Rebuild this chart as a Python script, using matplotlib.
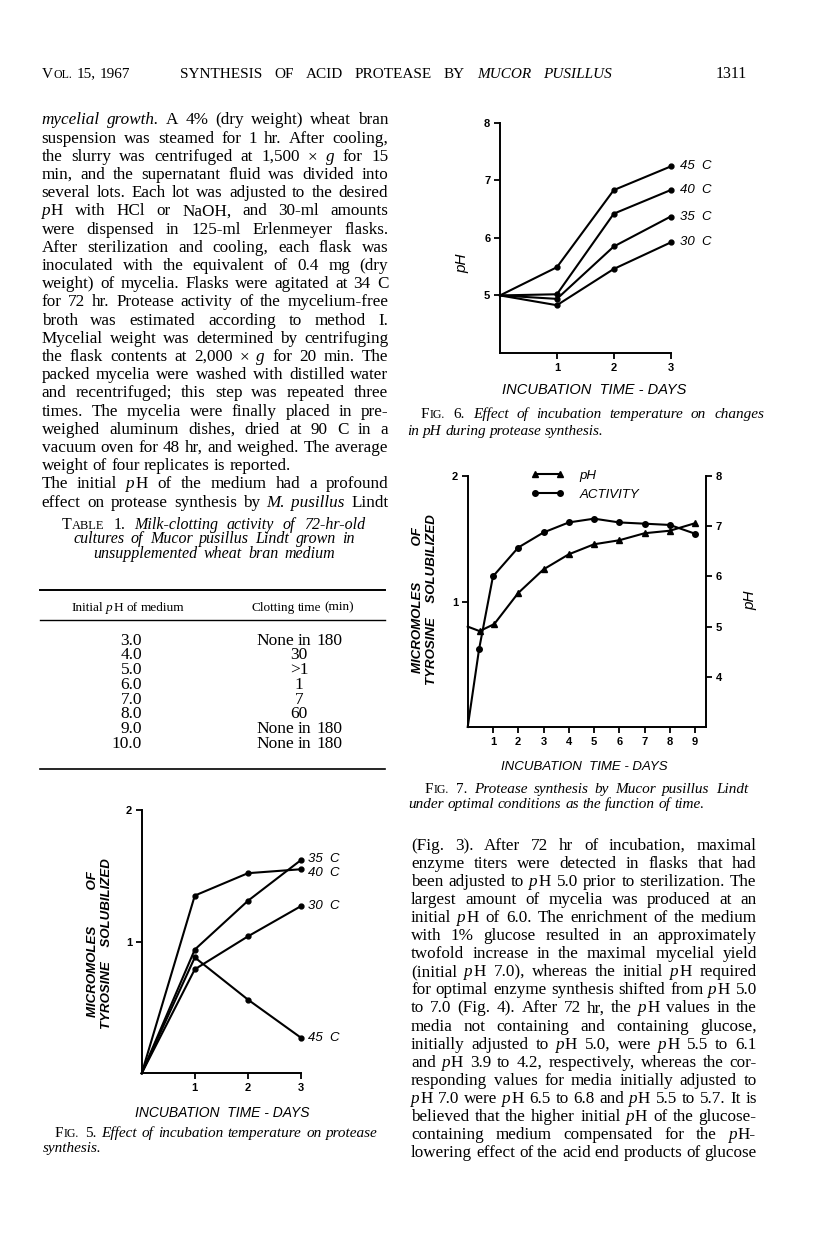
import numpy as np
import matplotlib.pyplot as plt
from matplotlib.lines import Line2D

# ---------------- Data ----------------
# Fig. 5 - micromoles tyrosine solubilized vs incubation time
fig5_days = [0, 1, 2, 3]
fig5_30C = [0, 0.79, 1.04, 1.27]
fig5_35C = [0, 0.94, 1.31, 1.62]
fig5_40C = [0, 1.35, 1.52, 1.55]
fig5_45C = [0, 0.88, 0.56, 0.27]

# Fig. 6 - pH vs incubation time
fig6_days = [0, 1, 2, 3]
fig6_30C = [5.0, 4.83, 5.46, 5.92]
fig6_35C = [5.0, 4.94, 5.85, 6.37]
fig6_40C = [5.0, 5.02, 6.42, 6.83]
fig6_45C = [5.0, 5.49, 6.83, 7.24]

# Fig. 7 - activity and pH vs time
fig7_days_act = [0, 0.45, 1, 2, 3, 4, 5, 6, 7, 8, 9]
fig7_activity = [0, 0.62, 1.20, 1.43, 1.55, 1.63, 1.66, 1.63, 1.62, 1.61, 1.54]
fig7_days_ph = [0, 0.47, 1.05, 2, 3, 4, 5, 6, 7, 8, 9]
fig7_ph = [5.0, 4.91, 5.05, 5.67, 6.14, 6.44, 6.64, 6.72, 6.86, 6.91, 7.06]

# Table 1
table_ph = ['3.0', '4.0', '5.0', '6.0', '7.0', '8.0', '9.0', '10.0']
table_clot = ['None in 180', '30', '>1', '1', '7', '60', 'None in 180', 'None in 180']

# ---------------- Page text ----------------
left_lines = [
    "*mycelial growth.* A 4% (dry weight) wheat bran",
    "suspension was steamed for 1 hr. After cooling,",
    "the slurry was centrifuged at 1,500 × *g* for 15",
    "min, and the supernatant fluid was divided into",
    "several lots. Each lot was adjusted to the desired",
    "*p*H with HCl or NaOH, and 30-ml amounts",
    "were dispensed in 125-ml Erlenmeyer flasks.",
    "After sterilization and cooling, each flask was",
    "inoculated with the equivalent of 0.4 mg (dry",
    "weight) of mycelia. Flasks were agitated at 34 C",
    "for 72 hr. Protease activity of the mycelium-free",
    "broth was estimated according to method I.",
    "Mycelial weight was determined by centrifuging",
    "the flask contents at 2,000 × *g* for 20 min. The",
    "packed mycelia were washed with distilled water",
    "and recentrifuged; this step was repeated three",
    "times. The mycelia were finally placed in pre-",
    "weighed aluminum dishes, dried at 90 C in a",
    "vacuum oven for 48 hr, and weighed. The average",
    "weight of four replicates is reported.",
    "The initial *p*H of the medium had a profound",
    "effect on protease synthesis by *M. pusillus* Lindt",
]

right_lines = [
    "(Fig. 3). After 72 hr of incubation, maximal",
    "enzyme titers were detected in flasks that had",
    "been adjusted to *p*H 5.0 prior to sterilization. The",
    "largest amount of mycelia was produced at an",
    "initial *p*H of 6.0. The enrichment of the medium",
    "with 1% glucose resulted in an approximately",
    "twofold increase in the maximal mycelial yield",
    "(initial *p*H 7.0), whereas the initial *p*H required",
    "for optimal enzyme synthesis shifted from *p*H 5.0",
    "to 7.0 (Fig. 4). After 72 hr, the *p*H values in the",
    "media not containing and containing glucose,",
    "initially adjusted to *p*H 5.0, were *p*H 5.5 to 6.1",
    "and *p*H 3.9 to 4.2, respectively, whereas the cor-",
    "responding values for media initially adjusted to",
    "*p*H 7.0 were *p*H 6.5 to 6.8 and *p*H 5.5 to 5.7. It is",
    "believed that the higher initial *p*H of the glucose-",
    "containing medium compensated for the *p*H-",
    "lowering effect of the acid end products of glucose",
]

W, H = 816, 1256
SERIF = 'Liberation Serif'
SANS = 'Liberation Sans'
plt.rcParams['font.family'] = SANS

fig = plt.figure(figsize=(W / 100, H / 100), dpi=100)
fig.patch.set_facecolor('white')
renderer = fig.canvas.get_renderer()


def parse_words(line):
    # '*' toggles italic, '^' toggles small caps
    words = []
    it = False
    sc = False
    for raw in line.split(' '):
        runs = []
        cur = ''
        for ch in raw:
            if ch in '*^':
                if cur:
                    runs.append((cur, it, sc))
                    cur = ''
                if ch == '*':
                    it = not it
                else:
                    sc = not sc
            else:
                cur += ch
        if cur:
            runs.append((cur, it, sc))
        if runs:
            words.append(runs)
    return words


def text_line(x, y, line, size, width=None, ha='left', family=SERIF):
    # y is the visual middle of the line in page pixels
    px = size * 100 / 72.
    base = y + 0.3 * px
    placed = []
    total = 0
    for runs in parse_words(line):
        parts = []
        for s, it, sc in runs:
            t = fig.text(0, 0, s, fontsize=size * (0.78 if sc else 1.0), family=family,
                         style='italic' if it else 'normal', va='baseline', ha='left')
            w = t.get_window_extent(renderer).width
            if len(runs) > 1:
                w += 0.04 * px
            parts.append((t, w))
            total += w
        placed.append(parts)
    gap = 0.25 * px
    if width is not None and len(placed) > 1:
        gap = max((width - total) / (len(placed) - 1), 0.15 * px)
    full = total + gap * (len(placed) - 1)
    if ha == 'center':
        x = x - full / 2
    elif ha == 'right':
        x = x - full
    for parts in placed:
        for t, w in parts:
            t.set_position((x / W, 1 - base / H))
            x += w
        x += gap


BODY = 12.3
CAP = 11

# Running head
text_line(41.7, 73, "V^OL.^ 15, 1967", 11)
text_line(180, 73, "SYNTHESIS OF ACID PROTEASE BY *MUCOR PUSILLUS*", 11, width=612 - 180)
text_line(747, 73, "1311", 11.5, ha='right')

# Left column
for i, line in enumerate(left_lines):
    wid = None if i == 19 else 388.3 - 41.7
    text_line(41.7, 119.3 + i * 18.2, line, BODY, width=wid)

# Right column
for i, line in enumerate(right_lines):
    text_line(411, 845 + i * 18.04, line, BODY, width=756.7 - 411)

# Table 1
text_line(61.7, 524, "T^ABLE^ 1. *Milk-clotting activity of 72-hr-old*", 11.5, width=365 - 61.7)
text_line(73.3, 538.5, "*cultures of Mucor pusillus Lindt grown in*", 11.5, width=355 - 73.3)
text_line(93.3, 553, "*unsupplemented wheat bran medium*", 11.5, width=335 - 93.3)
for yy, lw in [(590, 1.4), (620, 1.0), (769.3, 1.2)]:
    fig.add_artist(Line2D([40 / W, 385 / W], [1 - yy / H] * 2, color='black', lw=lw))
text_line(128, 606.7, "Initial *p*H of medium", 9.5, ha='center')
text_line(302.5, 606.7, "Clotting time (min)", 9.5, ha='center')
for i in range(len(table_ph)):
    text_line(142, 639.3 + i * 14.77, table_ph[i], 12.5, ha='right')
    text_line(299, 639.3 + i * 14.77, table_clot[i], 12.5, ha='center')

# Captions
text_line(421, 413.3, "F^IG.^ 6. *Effect of incubation temperature on changes*", CAP, width=764 - 421)
text_line(407, 430, "*in pH during protease synthesis.*", CAP)
text_line(425, 788, "F^IG.^ 7. *Protease synthesis by Mucor pusillus Lindt*", CAP, width=748 - 425)
text_line(408, 803, "*under optimal conditions as the function of time.*", CAP)
text_line(55, 1132.3, "F^IG.^ 5. *Effect of incubation temperature on protease*", CAP, width=378 - 55)
text_line(43, 1147, "*synthesis.*", CAP)


# ---------------- Charts ----------------
def axes_px(left, top, right, bottom):
    return fig.add_axes([left / W, 1 - bottom / H, (right - left) / W, (bottom - top) / H])


def style_axes(ax, sides=('left', 'bottom')):
    for side in ['top', 'right', 'left', 'bottom']:
        ax.spines[side].set_visible(side in sides)
        ax.spines[side].set_linewidth(1.4)
    ax.tick_params(direction='out', length=4, width=1.3, labelsize=8, pad=3)
    ax.patch.set_alpha(0)


LW = 1.5
XLAB = "INCUBATION  TIME - DAYS"
YLAB = "MICROMOLES          OF\nTYROSINE    SOLUBILIZED"
LABSIZE = 9.5

# Fig. 6
ax6 = axes_px(500, 122.7, 670.7, 353)
style_axes(ax6)
for vals, lab in [(fig6_45C, '45  C'), (fig6_40C, '40  C'), (fig6_35C, '35  C'), (fig6_30C, '30  C')]:
    ax6.plot(fig6_days, vals, color='black', lw=LW, marker='o', ms=3.5,
             markevery=[1, 2, 3], clip_on=False)
    ax6.annotate(lab, xy=(fig6_days[-1], vals[-1]), xytext=(6.5, 0), textcoords='offset points',
                 ha='left', va='center', style='italic', fontsize=LABSIZE)
ax6.set_xlim(0, 3)
ax6.set_ylim(4, 8)
ax6.set_xticks([1, 2, 3])
ax6.set_yticks([5, 6, 7, 8])
ax6.set_xlabel(XLAB, style='italic', fontsize=10.5, va='center')
ax6.xaxis.set_label_coords(0.549, -0.161)
ax6.set_ylabel('pH', style='italic', fontsize=11, va='center')
ax6.yaxis.set_label_coords(-0.223, 0.391)
plt.setp(ax6.get_xticklabels() + ax6.get_yticklabels(), fontweight='bold')

# Fig. 7
ax7 = axes_px(467.7, 476, 706, 727)
style_axes(ax7)
ax7r = ax7.twinx()
style_axes(ax7r, sides=('right',))
act_line, = ax7.plot(fig7_days_act, fig7_activity, color='black', lw=LW, marker='o', ms=4,
                     markevery=list(range(1, len(fig7_days_act))), clip_on=False, label='ACTIVITY')
ph_line, = ax7r.plot(fig7_days_ph, fig7_ph, color='black', lw=LW, marker='^', ms=4.5,
                     markevery=list(range(1, len(fig7_days_ph))), clip_on=False, label='pH')
ax7.set_xlim(0, 9.43)
ax7.set_ylim(0, 2)
ax7r.set_ylim(3, 8)
ax7.set_xticks(range(1, 10))
ax7.set_yticks([1, 2])
ax7r.set_yticks([4, 5, 6, 7, 8])
ax7.set_xlabel(XLAB, style='italic', fontsize=9.5, va='center')
ax7.xaxis.set_label_coords(0.49, -0.158)
ax7.set_ylabel(YLAB, style='italic', fontweight='bold', fontsize=9.5, va='center', linespacing=1.2)
ax7.yaxis.set_label_coords(-0.18, 0.506)
ax7r.set_ylabel('pH', style='italic', fontsize=11, va='center', rotation=90)
ax7r.yaxis.set_label_coords(1.185, 0.506)
ax7r.legend(handles=[ph_line, act_line], loc='upper left', bbox_to_anchor=(0.264, 1.025),
            frameon=False, numpoints=2, handlelength=2.5, handletextpad=1.2,
            labelspacing=0.5, borderpad=0, borderaxespad=0,
            prop={'style': 'italic', 'size': 9.5, 'family': SANS})
plt.setp(ax7.get_xticklabels() + ax7.get_yticklabels() + ax7r.get_yticklabels(), fontweight='bold')

# Fig. 5
ax5 = axes_px(141.7, 810, 301, 1073.3)
style_axes(ax5)
for vals, lab, dy in [(fig5_35C, '35  C', 1), (fig5_40C, '40  C', -2.5),
                      (fig5_30C, '30  C', 0), (fig5_45C, '45  C', 0)]:
    ax5.plot(fig5_days, vals, color='black', lw=LW, marker='o', ms=3.5,
             markevery=[1, 2, 3], clip_on=False)
    ax5.annotate(lab, xy=(fig5_days[-1], vals[-1]), xytext=(5, dy), textcoords='offset points',
                 ha='left', va='center', style='italic', fontsize=LABSIZE)
ax5.set_xlim(0, 3)
ax5.set_ylim(0, 2)
ax5.set_xticks([1, 2, 3])
ax5.set_yticks([1, 2])
ax5.set_xlabel(XLAB, style='italic', fontsize=10, va='center')
ax5.xaxis.set_label_coords(0.508, -0.149)
ax5.set_ylabel(YLAB, style='italic', fontweight='bold', fontsize=9.5, va='center', linespacing=1.2)
ax5.yaxis.set_label_coords(-0.262, 0.491)
plt.setp(ax5.get_xticklabels() + ax5.get_yticklabels(), fontweight='bold')

plt.savefig('out.png', dpi=100, facecolor='white')
